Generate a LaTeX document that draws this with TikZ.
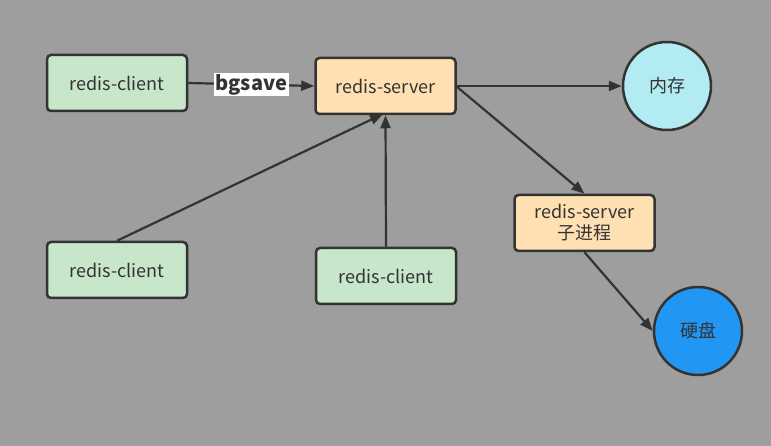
\documentclass[tikz,border=0pt]{standalone}
\usepackage{fontspec}
\setmainfont{Noto Sans CJK SC}
\usetikzlibrary{arrows.meta}
\definecolor{bg}{HTML}{9E9E9E}
\definecolor{ink}{HTML}{333333}
\definecolor{gfill}{HTML}{C8E6C9}
\definecolor{ofill}{HTML}{FFE0B2}
\definecolor{cfill}{HTML}{B2EBF2}
\definecolor{bfill}{HTML}{2196F3}
\tikzset{
  box/.style={draw=ink, line width=2.5pt, rounded corners=4pt, minimum width=140pt, minimum height=56pt, inner sep=0pt, align=center, text=ink, font=\fontsize{18}{22}\selectfont},
  gbox/.style={box, fill=gfill},
  obox/.style={box, fill=ofill},
  circ/.style={circle, draw=ink, line width=2.5pt, minimum size=88pt, inner sep=0pt, text=ink, font=\fontsize{18}{22}\selectfont},
  conn/.style={draw=ink, line width=2.2pt, -{Triangle[length=13pt,width=10pt]}},
}
\begin{document}
\begin{tikzpicture}[x=1pt,y=-1pt]
\useasboundingbox[fill=bg] (0,0) rectangle (771,446);
\node[gbox] (c1) at (117,83) {redis-client};
\node[gbox] (c2) at (117,270) {redis-client};
\node[gbox] (c3) at (386,276) {redis-client};
\node[obox] (s) at (385.5,86) {redis-server};
\node[obox] (sub) at (584.5,223) {redis-server\\[-1pt]子进程};
\node[circ, fill=cfill] (mem) at (667,86) {内存};
\node[circ, fill=bfill] (disk) at (698,331) {硬盘};
\draw[conn] (c1.east) -- node[fill=white, inner sep=1.5pt, text=ink, font=\bfseries\fontsize{20}{22}\selectfont] {bgsave} (s.west);
\draw[conn] (c2.north) -- (383,114);
\draw[conn] (c3.north) -- (s.south);
\draw[conn] (s.east) -- (mem.west);
\draw[conn] (456,86) -- (sub.north);
\draw[conn] (sub.south) -- (disk.west);
\end{tikzpicture}
\end{document}
